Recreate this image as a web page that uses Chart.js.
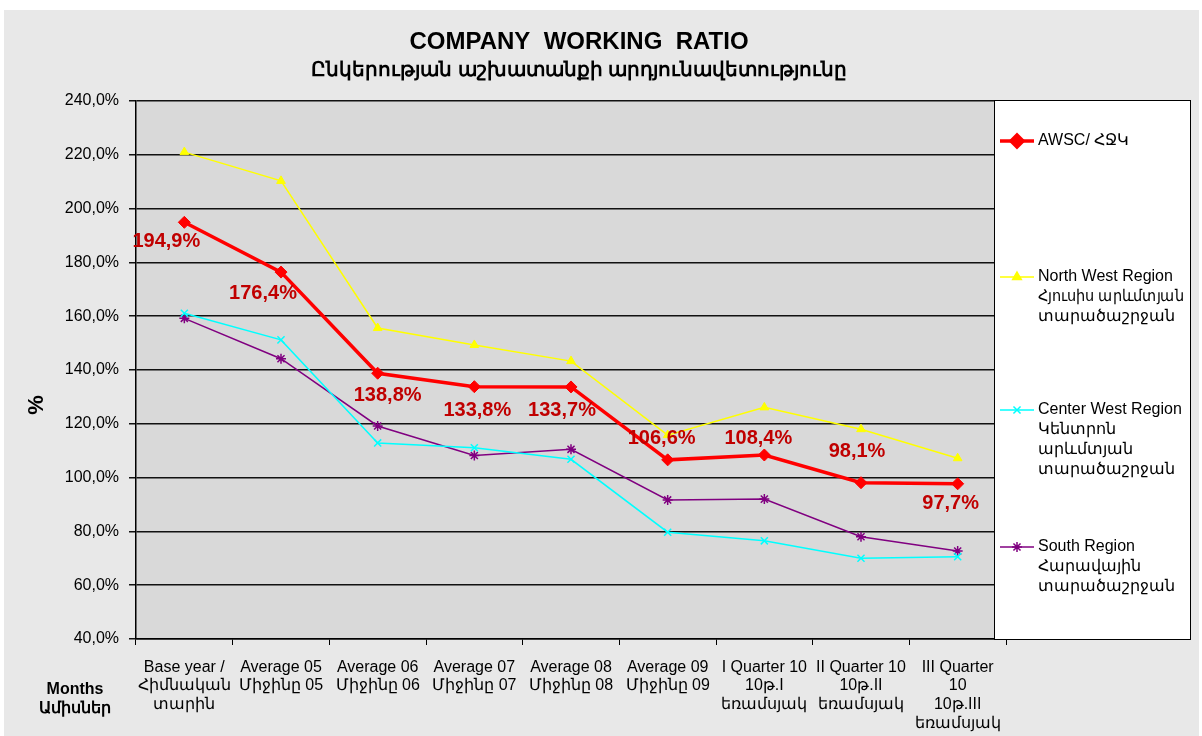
<!DOCTYPE html>
<html><head><meta charset="utf-8">
<script src="https://cdn.jsdelivr.net/npm/chart.js@4.4.1/dist/chart.umd.min.js"></script>
<style>html,body{margin:0;padding:0;background:#fff;}canvas{display:block}</style>
</head><body>
<canvas id="c" width="1202" height="736"></canvas>
<script>
// ---------- data ----------
const categories = [
  ["Base year /", "Հիմնական", "տարին"],
  ["Average 05", "Միջինը 05"],
  ["Average 06", "Միջինը 06"],
  ["Average 07", "Միջինը 07"],
  ["Average 08", "Միջինը 08"],
  ["Average 09", "Միջինը 09"],
  ["I Quarter 10", "10թ.I", "եռամսյակ"],
  ["II Quarter 10", "10թ.II", "եռամսյակ"],
  ["III Quarter", "10", "10թ.III", "եռամսյակ"]
];
const awscValues       = [194.9, 176.4, 138.8, 133.8, 133.7, 106.6, 108.4, 98.1, 97.7];
const northWestValues  = [221.0, 210.3, 155.6, 149.3, 143.3, 115.8, 126.1, 118.0, 107.2];
const centerWestValues = [161.1, 151.2, 112.9, 111.1, 106.8, 79.7, 76.5, 70.0, 70.6];
const southValues      = [159.2, 144.2, 119.2, 108.2, 110.5, 91.7, 92.0, 78.0, 72.7];

const awscName       = ["AWSC/ ՀՋԿ"];
const northWestName  = ["North West Region", "Հյուսիս արևմտյան", "տարածաշրջան"];
const centerWestName = ["Center West Region", "Կենտրոն", "արևմտյան", "տարածաշրջան"];
const southName      = ["South Region", "Հարավային", "տարածաշրջան"];

const titleText    = "COMPANY  WORKING  RATIO";
const subtitleText = "Ընկերության աշխատանքի արդյունավետությունը";
const yAxisTitle   = "%";
const xAxisTitle   = ["Months", "Ամիսներ"];
const yMin = 40, yMax = 240, yStep = 20;

// ---------- styling ----------
const FONT = "'Liberation Sans', 'Noto Sans', Arial, sans-serif";
Chart.defaults.color = '#000';
Chart.defaults.font.family = FONT;

// label offsets (dx, dy) relative to AWSC points
const labelOffsets = [[-18,19],[-18,21],[10,22],[3,24],[-9,24],[-6,-21],[-6,-17],[-4,-31],[-7,20]];

const fmtPct = v => v.toFixed(1).replace('.', ',') + '%';

const bgPlugin = {
  id: 'bg',
  beforeDraw(chart) {
    const ctx = chart.ctx, a = chart.chartArea;
    ctx.save();
    ctx.fillStyle = '#ffffff';
    ctx.fillRect(0, 0, chart.width, chart.height);
    ctx.fillStyle = '#e8e8e8';
    ctx.fillRect(4, 10, chart.width - 7, chart.height - 10);
    ctx.fillStyle = '#d9d9d9';
    ctx.fillRect(a.left, a.top, a.right - a.left, a.bottom - a.top);
    ctx.restore();
  }
};

const labelPlugin = {
  id: 'labels',
  afterDatasetsDraw(chart) {
    const ctx = chart.ctx;
    const meta = chart.getDatasetMeta(0);
    ctx.save();
    ctx.font = "bold 20px " + FONT;
    ctx.fillStyle = '#c00000';
    ctx.textAlign = 'center';
    ctx.textBaseline = 'middle';
    meta.data.forEach((pt, i) => {
      const off = labelOffsets[i];
      ctx.fillText(fmtPct(awscValues[i]), pt.x + off[0], pt.y + off[1]);
    });
    ctx.restore();
  }
};

const decoPlugin = {
  id: 'deco',
  afterDraw(chart) {
    const ctx = chart.ctx;
    ctx.save();
    // legend box
    const lx = 994, ly = 100, lw = 196, lh = 539;
    ctx.fillStyle = '#ffffff';
    ctx.fillRect(lx, ly, lw, lh);
    ctx.strokeStyle = '#000';
    ctx.lineWidth = 1;
    ctx.strokeRect(lx + 0.5, ly + 0.5, lw, lh);
    const names = [awscName, northWestName, centerWestName, southName];
    const ys = [141, 277, 410, 547];
    ctx.font = "16px " + FONT;
    ctx.textBaseline = 'middle';
    ctx.textAlign = 'left';
    chart.data.datasets.forEach((ds, i) => {
      const y = ys[i];
      ctx.strokeStyle = ds.borderColor;
      ctx.lineWidth = ds.borderWidth;
      ctx.beginPath(); ctx.moveTo(1000, y); ctx.lineTo(1034, y); ctx.stroke();
      ctx.fillStyle = ds.pointBackgroundColor;
      ctx.strokeStyle = ds.pointBorderColor;
      Chart.helpers.drawPoint(ctx, {pointStyle: ds.pointStyle, radius: ds.pointRadius, rotation: 0, borderWidth: ds.pointBorderWidth}, 1017, y);
      ctx.fillStyle = '#000';
      names[i].forEach((line, k) => ctx.fillText(line, 1038, y + k * 19.7, 146));
    });
    // titles
    ctx.textAlign = 'center';
    ctx.fillStyle = '#000';
    ctx.font = "bold 24px " + FONT;
    ctx.fillText(titleText, 579, 42);
    ctx.font = "bold 20px " + FONT;
    ctx.fillText(subtitleText, 579, 70);
    // y axis title
    ctx.save();
    ctx.translate(37, 405);
    ctx.rotate(-Math.PI / 2);
    ctx.font = "bold 22px " + FONT;
    ctx.fillText(yAxisTitle, 0, 0);
    ctx.restore();
    // x axis title
    ctx.font = "bold 16px " + FONT;
    xAxisTitle.forEach((t, k) => ctx.fillText(t, 75, 690 + k * 19));
    ctx.restore();
  }
};

new Chart(document.getElementById('c'), {
  type: 'line',
  data: {
    labels: categories,
    datasets: [
      { label: awscName.join(' '), data: awscValues, borderColor: '#ff0000', backgroundColor: '#ff0000',
        pointBackgroundColor: '#ff0000', pointBorderColor: '#ff0000', borderWidth: 3.5,
        pointStyle: 'rectRot', pointRadius: 6, pointBorderWidth: 1 },
      { label: northWestName.join(' '), data: northWestValues, borderColor: '#ffff00', backgroundColor: '#ffff00',
        pointBackgroundColor: '#ffff00', pointBorderColor: '#ffff00', borderWidth: 1.5,
        pointStyle: 'triangle', pointRadius: 5, pointBorderWidth: 1 },
      { label: centerWestName.join(' '), data: centerWestValues, borderColor: '#00ffff', backgroundColor: '#00ffff',
        pointBackgroundColor: '#00ffff', pointBorderColor: '#00ffff', borderWidth: 1.5,
        pointStyle: 'crossRot', pointRadius: 5, pointBorderWidth: 1.5 },
      { label: southName.join(' '), data: southValues, borderColor: '#800080', backgroundColor: '#800080',
        pointBackgroundColor: '#800080', pointBorderColor: '#800080', borderWidth: 1.5,
        pointStyle: 'star', pointRadius: 5, pointBorderWidth: 1.5 }
    ]
  },
  options: {
    responsive: false,
    animation: false,
    devicePixelRatio: 1,
    layout: { padding: { top: 101, right: 196, left: 0, bottom: 0 } },
    plugins: { legend: { display: false }, tooltip: { enabled: false }, title: { display: false } },
    elements: { line: { tension: 0 } },
    scales: {
      x: {
        offset: true,
        grid: { offset: true, drawOnChartArea: false, drawTicks: true, tickLength: 6, color: '#000', lineWidth: 1 },
        border: { display: true, color: '#000', width: 1.5 },
        ticks: { font: { size: 16, lineHeight: 1.17 }, padding: 13, maxRotation: 0, autoSkip: false, color: '#000' },
        afterFit(s) { s.height = 97; }
      },
      y: {
        min: yMin, max: yMax,
        grid: { color: '#111', lineWidth: 1.5, tickLength: 7 },
        border: { display: true, color: '#000', width: 1.5 },
        ticks: { stepSize: yStep, font: { size: 16 }, padding: 10, color: '#000', callback: v => fmtPct(v) },
        afterFit(s) { s.width = 136; }
      }
    }
  },
  plugins: [bgPlugin, labelPlugin, decoPlugin]
});
</script>
</body></html>
